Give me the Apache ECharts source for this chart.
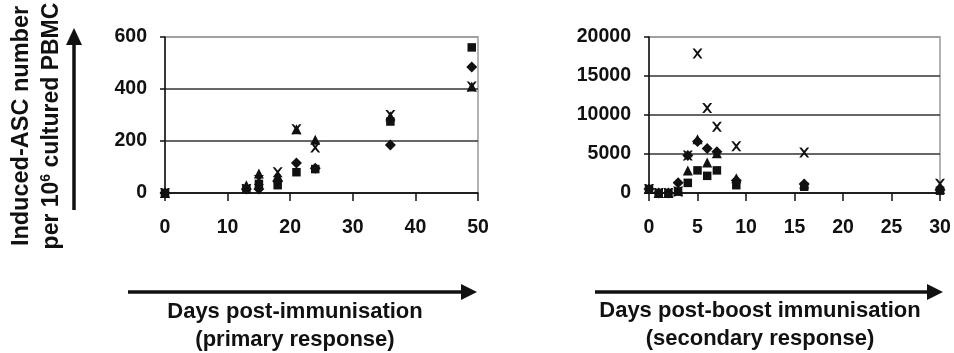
<!DOCTYPE html>
<html>
<head>
<meta charset="utf-8">
<script src="https://cdn.jsdelivr.net/npm/echarts@6/dist/echarts.min.js"></script>
<style>
  html, body { margin: 0; padding: 0; background: #fff; }
  #chart { width: 954px; height: 353px; }
</style>
</head>
<body>
<div id="chart"></div>
<script>
// primary response (days after first immunisation)
var primaryDays = [0, 13, 15, 18, 21, 24, 36, 49];
var primaryDiamond = [0, 15, 15, 45, 115, 95, 185, 485];
var primarySquare = [0, 15, 35, 30, 80, 92, 275, 560];
var primaryTriangle = [0, 30, 75, 65, 245, 205, 295, 410];
var primaryCross = [0, 15, 50, 80, 245, 175, 300, 410];

// secondary response (days after boost)
var boostDays = [0, 1, 2, 3, 4, 5, 6, 7, 9, 16, 30];
var boostDiamond = [500, 0, 0, 1300, 4800, 6600, 5700, 5300, 1600, 1150, 400];
var boostSquare = [500, 0, 0, 200, 1300, 2900, 2200, 2900, 1000, 800, 300];
var boostTriangle = [500, 0, 0, 300, 2900, 6900, 3900, 5100, 1900, 1200, 500];
var boostCross = [500, 0, 0, 200, 4800, 17900, 10900, 8500, 6000, 5200, 1200];

var primaryX = { min: 0, max: 50, interval: 10 };
var primaryY = { min: 0, max: 600, interval: 200 };
var boostX = { min: 0, max: 30, interval: 5 };
var boostY = { min: 0, max: 20000, interval: 5000 };

var FONT = 'Liberation Sans, Arial, sans-serif';
var INK = '#111';
var crossPath = 'path://M0,0 L2.2,0 L5,3.3 L7.8,0 L10,0 L6.2,5 L10,10 L7.8,10 L5,6.7 L2.2,10 L0,10 L3.8,5 Z';

function pairs(xs, ys) {
    var out = [];
    xs.forEach(function (x, i) { out.push([x, ys[i]]); });
    return out;
}

function plain(v) { return String(v); }

function xAxisOpt(idx, range) {
    return {
        type: 'value', gridIndex: idx,
        min: range.min, max: range.max, interval: range.interval,
        axisLine: { show: true, lineStyle: { color: INK, width: 1.5 } },
        axisTick: { show: true, length: 8, lineStyle: { color: INK, width: 1.5 } },
        axisLabel: { margin: 25, color: INK, fontFamily: FONT, fontWeight: 'bold', fontSize: 19.5, formatter: plain },
        splitLine: { show: false }
    };
}

function yAxisOpt(idx, range) {
    var n = (range.max - range.min) / range.interval + 1;
    var colors = [];
    for (var i = 0; i < n; i++) colors.push(i == n - 1 ? '#9a9a9a' : '#333');
    return {
        type: 'value', gridIndex: idx,
        min: range.min, max: range.max, interval: range.interval,
        axisLine: { show: true, lineStyle: { color: INK, width: 1.5 } },
        axisTick: { show: true, length: 5, lineStyle: { color: INK, width: 1.5 } },
        axisLabel: { margin: 18, color: INK, fontFamily: FONT, fontWeight: 'bold', fontSize: 19.5, formatter: plain },
        splitLine: { show: true, lineStyle: { color: colors, width: 1.5 } }
    };
}

function scatter(idx, symbol, size, data) {
    return {
        type: 'scatter', xAxisIndex: idx, yAxisIndex: idx,
        symbol: symbol, symbolSize: size,
        itemStyle: { color: INK, opacity: 1 },
        data: data, z: 5
    };
}

function arrowH(x1, x2, y) {
    return [
        { type: 'line', shape: { x1: x1, y1: y, x2: x2 - 12, y2: y }, style: { stroke: INK, lineWidth: 3.5 } },
        { type: 'polygon', shape: { points: [[x2 - 16, y - 8], [x2, y], [x2 - 16, y + 8]] }, style: { fill: INK } }
    ];
}

var myCharts = echarts.init(document.getElementById('chart'));

var graphics = [];
graphics = graphics.concat(arrowH(128, 477, 292));
graphics = graphics.concat(arrowH(595, 943, 292));
// vertical arrow beside y title
graphics.push({ type: 'line', shape: { x1: 74, y1: 210, x2: 74, y2: 42 }, style: { stroke: INK, lineWidth: 3.5 } });
graphics.push({ type: 'polygon', shape: { points: [[66, 45], [74, 28], [82, 45]] }, style: { fill: INK } });

graphics.push({
    type: 'text', x: 22, y: 126, rotation: Math.PI / 2,
    style: { text: 'Induced-ASC number', fill: INK, font: 'bold 23.5px ' + FONT, align: 'center', verticalAlign: 'middle' }
});
graphics.push({
    type: 'text', x: 52, y: 126, rotation: Math.PI / 2,
    style: {
        text: '{n|per 10}{s|6}{n| cultured PBMC}', align: 'center', verticalAlign: 'middle',
        rich: {
            n: { fill: INK, fontFamily: FONT, fontWeight: 'bold', fontSize: 23, lineHeight: 26 },
            s: { fill: INK, fontFamily: FONT, fontWeight: 'bold', fontSize: 14, lineHeight: 26, verticalAlign: 'top', padding: [0, 0, 10, 0] }
        }
    }
});

var titles = [
    ['Days post-immunisation', 295, 312],
    ['(primary response)', 295, 340],
    ['Days post-boost immunisation', 760, 311],
    ['(secondary response)', 760, 339]
];
titles.forEach(function (t) {
    graphics.push({
        type: 'text', x: t[1], y: t[2],
        style: { text: t[0], fill: INK, font: 'bold 22px ' + FONT, align: 'center', verticalAlign: 'middle' }
    });
});

var options = {
    animation: false,
    backgroundColor: '#fff',
    grid: [
        { left: 165, top: 37, width: 313, height: 156, show: true, borderColor: '#9a9a9a', borderWidth: 1.5 },
        { left: 649, top: 37, width: 291, height: 156, show: true, borderColor: '#9a9a9a', borderWidth: 1.5 }
    ],
    xAxis: [xAxisOpt(0, primaryX), xAxisOpt(1, boostX)],
    yAxis: [yAxisOpt(0, primaryY), yAxisOpt(1, boostY)],
    series: [
        scatter(0, 'diamond', 11, pairs(primaryDays, primaryDiamond)),
        scatter(0, 'rect', 8.5, pairs(primaryDays, primarySquare)),
        scatter(0, 'triangle', 10, pairs(primaryDays, primaryTriangle)),
        scatter(0, crossPath, 10, pairs(primaryDays, primaryCross)),
        scatter(1, 'diamond', 11, pairs(boostDays, boostDiamond)),
        scatter(1, 'rect', 8.5, pairs(boostDays, boostSquare)),
        scatter(1, 'triangle', 10, pairs(boostDays, boostTriangle)),
        scatter(1, crossPath, 10, pairs(boostDays, boostCross))
    ],
    graphic: graphics
};

myCharts.setOption(options);
</script>
</body>
</html>
